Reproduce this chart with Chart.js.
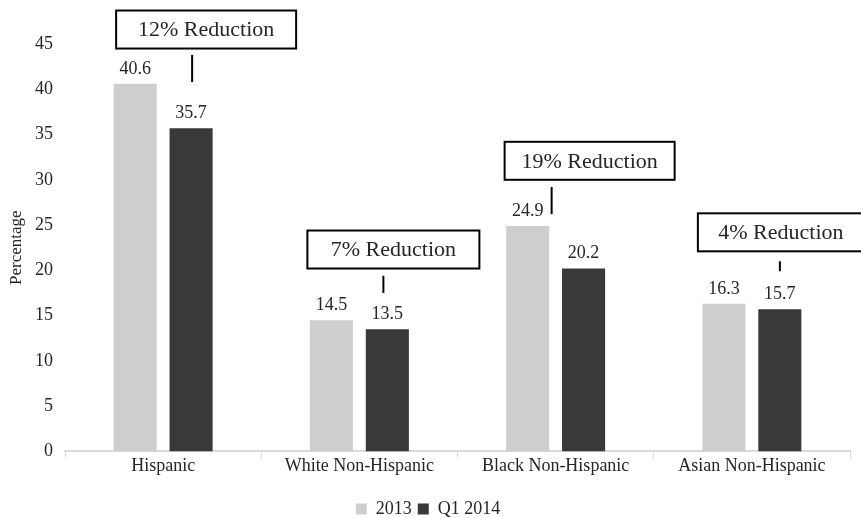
<!DOCTYPE html>
<html>
<head>
<meta charset="utf-8">
<script src="https://cdn.jsdelivr.net/npm/chart.js@4.4.1/dist/chart.umd.min.js"></script>
<style>
  html, body { margin: 0; padding: 0; background: #fff; }
  #wrap { width: 861px; height: 518px; }
</style>
</head>
<body>
<div id="wrap"><canvas id="chart" width="861" height="518"></canvas></div>
<script>
const categories = ['Hispanic', 'White Non-Hispanic', 'Black Non-Hispanic', 'Asian Non-Hispanic'];
const values2013 = [40.6, 14.5, 24.9, 16.3];
const valuesQ1 = [35.7, 13.5, 20.2, 15.7];
const reductionLabels = ['12% Reduction', '7% Reduction', '19% Reduction', '4% Reduction'];

const serif = '"Liberation Serif", "Times New Roman", serif';
const textColor = '#262626';

// callout boxes: x offset from category centre (px), box bottom & line span in value units
const callouts = [
  { dx: 43, w: 180, boxBottom: 44.5, lineX: 29, lineTop: 43.8, lineBottom: 40.8 },
  { dx: 34, w: 172, boxBottom: 20.2, lineX: 24, lineTop: 19.4, lineBottom: 17.5 },
  { dx: 34, w: 170, boxBottom: 30.0, lineX: -4, lineTop: 29.2, lineBottom: 26.2 },
  { dx: 29, w: 166, boxBottom: 22.1, lineX: 28, lineTop: 21.0, lineBottom: 19.9 },
];

const valueLabels = {
  id: 'valueLabels',
  afterDatasetsDraw(chart) {
    const { ctx } = chart;
    ctx.save();
    ctx.font = '18px ' + serif;
    ctx.fillStyle = textColor;
    ctx.textAlign = 'center';
    ctx.textBaseline = 'bottom';
    chart.data.datasets.forEach((ds, di) => {
      chart.getDatasetMeta(di).data.forEach((bar, i) => {
        ctx.fillText(ds.data[i].toFixed(1), bar.x, bar.y - 6);
      });
    });
    ctx.restore();
  },
};

const reductionCallouts = {
  id: 'reductionCallouts',
  afterDraw(chart) {
    const { ctx } = chart;
    const xs = chart.scales.x;
    const ys = chart.scales.y;
    ctx.save();
    ctx.font = '22px ' + serif;
    ctx.textAlign = 'center';
    ctx.textBaseline = 'middle';
    reductionLabels.forEach((label, i) => {
      const c = callouts[i];
      const cx = xs.getPixelForValue(i) + c.dx;
      const bottom = ys.getPixelForValue(c.boxBottom);
      const h = 38;
      ctx.fillStyle = '#fff';
      ctx.fillRect(cx - c.w / 2, bottom - h, c.w, h);
      ctx.strokeStyle = '#000';
      ctx.lineWidth = 2;
      ctx.strokeRect(cx - c.w / 2, bottom - h, c.w, h);
      ctx.fillStyle = textColor;
      ctx.fillText(label, cx, bottom - h / 2 + 1);
      const lx = xs.getPixelForValue(i) + c.lineX;
      ctx.beginPath();
      ctx.moveTo(lx, ys.getPixelForValue(c.lineTop));
      ctx.lineTo(lx, ys.getPixelForValue(c.lineBottom));
      ctx.stroke();
    });
    ctx.restore();
  },
};

new Chart(document.getElementById('chart'), {
  type: 'bar',
  data: {
    labels: categories,
    datasets: [
      {
        label: '2013',
        data: values2013,
        backgroundColor: '#d0cecd',
        categoryPercentage: 0.57,
        barPercentage: 0.77,
      },
      {
        label: 'Q1 2014',
        data: valuesQ1,
        backgroundColor: '#3a3839',
        categoryPercentage: 0.57,
        barPercentage: 0.77,
      },
    ],
  },
  options: {
    responsive: false,
    animation: false,
    layout: { padding: { top: 44, right: 11, left: 6, bottom: -10 } },
    scales: {
      x: {
        afterFit(scale) { scale.height += 20; },
        grid: { drawOnChartArea: false, color: '#d9d9d9', tickLength: 7, offset: true },
        border: { color: '#d9d9d9', width: 2 },
        ticks: { font: { family: serif, size: 18 }, color: textColor, padding: -3 },
      },
      y: {
        min: 0,
        max: 45,
        afterFit(scale) { scale.width = 59; },
        grid: { display: false },
        border: { display: false },
        ticks: { stepSize: 5, font: { family: serif, size: 18 }, color: textColor, padding: 4 },
        title: {
          display: true,
          text: 'Percentage',
          font: { family: serif, size: 17 },
          color: textColor,
          padding: 0,
        },
      },
    },
    plugins: {
      legend: {
        position: 'bottom',
        labels: {
          font: { family: serif, size: 18 },
          color: textColor,
          boxWidth: 11,
          boxHeight: 11,
          padding: 6,
        },
      },
      tooltip: { enabled: false },
    },
  },
  plugins: [valueLabels, reductionCallouts],
});
</script>
</body>
</html>
